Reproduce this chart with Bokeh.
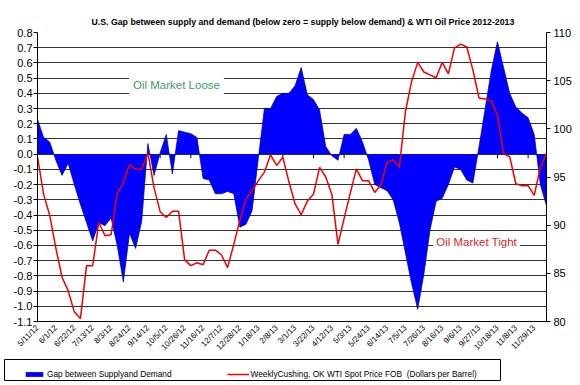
import math
from bokeh.plotting import figure
from bokeh.layouts import column, row
from bokeh.models import (Range1d, LinearAxis, FixedTicker, PrintfTickFormatter,
                          Label, Legend, LegendItem)
from bokeh.embed import file_html
from bokeh.resources import INLINE

# ---------------- data (weekly, 5/11/12 ... 12/20/13) ----------------
gap = [0.23, 0.11, 0.08, -0.04, -0.14, -0.06, -0.20, -0.33, -0.45, -0.57,
       -0.45, -0.47, -0.42, -0.60, -0.84, -0.52, -0.62, -0.44, 0.07, -0.14,
       0.01, 0.13, -0.13, 0.155, 0.145, 0.135, 0.11, -0.16, -0.17, -0.26,
       -0.26, -0.245, -0.26, -0.48, -0.46, -0.37, -0.03, 0.30, 0.30, 0.38,
       0.40, 0.40, 0.45, 0.57, 0.39, 0.36, 0.29, 0.05, -0.01, -0.04,
       0.13, 0.13, 0.17, 0.08, -0.04, -0.20, -0.22, -0.24, -0.30, -0.45,
       -0.65, -0.85, -1.02, -0.79, -0.50, -0.31, -0.29, -0.20, -0.085, -0.10,
       -0.17, -0.19, 0.05, 0.30, 0.55, 0.74, 0.57, 0.40, 0.31, 0.27,
       0.24, 0.13, -0.20, -0.34]

price = [97.1, 93.2, 91.0, 87.6, 84.6, 83.2, 81.0, 80.3, 85.8, 85.8,
         90.3, 88.9, 89.0, 93.3, 94.4, 96.3, 95.8, 95.8, 97.5, 93.9,
         91.4, 90.8, 91.45, 91.45, 86.4, 85.8, 86.1, 85.9, 87.4, 87.4,
         86.9, 85.6, 88.0, 90.5, 92.7, 93.6, 94.6, 95.5, 97.3, 96.2,
         97.06, 94.5, 92.2, 91.1, 92.5, 93.2, 96.0, 95.0, 93.2, 88.0,
         90.7, 93.3, 95.85, 94.6, 94.6, 93.4, 94.2, 96.5, 96.8, 96.0,
         101.8, 104.9, 106.9, 105.9, 105.6, 105.3, 106.9, 105.7, 108.4, 108.8,
         108.5, 106.1, 103.2, 103.1, 102.9, 101.4, 97.4, 97.1, 94.3, 94.1,
         94.1, 93.1, 96.0, 97.5]

week_index = list(range(len(gap)))

tick_labels = ["5/11/12", "6/1/12", "6/22/12", "7/13/12", "8/3/12", "8/24/12",
               "9/14/12", "10/5/12", "10/26/12", "11/16/12", "12/7/12",
               "12/28/12", "1/18/13", "2/8/13", "3/1/13", "3/22/13", "4/12/13",
               "5/3/13", "5/24/13", "6/14/13", "7/5/13", "7/26/13", "8/16/13",
               "9/6/13", "9/27/13", "10/18/13", "11/8/13", "11/29/13"]
tick_positions = week_index[::3][:len(tick_labels)]
zero_ticks = week_index[::5]

gap_ticks = [-1.1, -1.0, -0.9, -0.8, -0.7, -0.6, -0.5, -0.4, -0.3, -0.2, -0.1,
             0.0, 0.1, 0.2, 0.3, 0.4, 0.5, 0.6, 0.7, 0.8]
price_ticks = [80, 85, 90, 95, 100, 105, 110]

TITLE = ("U.S. Gap between supply and demand (below zero = supply below demand)"
         " & WTI Oil Price 2012-2013")
LEGEND_GAP = "Gap between Supplyand Demand"
LEGEND_PRICE = "WeeklyCushing, OK WTI Spot Price FOB  (Dollars per Barrel)"
FONT = "Liberation Sans"
AREA_COLOR = "#0000ff"
LINE_COLOR = "#f00000"

# ---------------- main figure ----------------
p = figure(width=580, height=358, output_backend="svg", toolbar_location=None,
           x_range=Range1d(week_index[0], week_index[-1]),
           y_range=Range1d(gap_ticks[0], gap_ticks[-1]),
           min_border_left=37, min_border_right=34, min_border_top=32,
           min_border_bottom=37)
p.extra_y_ranges = {"price": Range1d(price_ticks[0], price_ticks[-1])}
p.outline_line_color = None
p.background_fill_color = "white"
p.border_fill_color = "white"

# title
p.title.text = TITLE
p.title.align = "left"
p.title.offset = 54
p.title.standoff = 11
p.title.text_font = FONT
p.title.text_font_size = "8.75px"
p.title.text_font_style = "bold"
p.title.text_color = "black"

p.xgrid.visible = False
p.ygrid.ticker = FixedTicker(ticks=gap_ticks)
p.ygrid.grid_line_color = "#333333"
p.ygrid.grid_line_width = 1

# bottom (category) axis
xa = p.xaxis[0]
xa.ticker = FixedTicker(ticks=tick_positions)
xa.major_label_overrides = {pos: lab for pos, lab in zip(tick_positions, tick_labels)}
xa.major_label_orientation = math.pi / 4
xa.major_tick_out = 0
xa.major_tick_in = 0
xa.minor_tick_line_color = None
xa.axis_line_color = "black"
xa.major_label_text_font = FONT
xa.major_label_text_font_size = "8px"
xa.major_label_text_color = "black"
xa.major_label_standoff = 5

# left axis
ya = p.yaxis[0]
ya.ticker = FixedTicker(ticks=gap_ticks)
ya.formatter = PrintfTickFormatter(format="%.1f")
ya.major_tick_out = 4
ya.major_tick_in = 0
ya.minor_tick_line_color = None
ya.axis_line_color = "black"
ya.major_tick_line_color = "black"
ya.major_label_text_font = FONT
ya.major_label_text_font_size = "11px"
ya.major_label_text_color = "black"
ya.major_label_standoff = 1

# right axis
ra = LinearAxis(y_range_name="price", ticker=FixedTicker(ticks=price_ticks))
ra.major_tick_out = 4
ra.major_tick_in = 0
ra.minor_tick_line_color = None
ra.axis_line_color = "black"
ra.major_tick_line_color = "black"
ra.major_label_text_font = FONT
ra.major_label_text_font_size = "11px"
ra.major_label_text_color = "black"
ra.major_label_standoff = 3
p.add_layout(ra, "right")

# small tick marks on the zero line (under the area)
p.segment(x0=zero_ticks, y0=[0] * len(zero_ticks), x1=zero_ticks,
          y1=[-0.026] * len(zero_ticks), line_color="black", line_width=1)

# gap area
p.varea(x=week_index, y1=[0] * len(gap), y2=gap, fill_color=AREA_COLOR)
p.line(week_index, gap, line_color="#000080", line_width=0.7)

# price line
p.line(week_index, price, y_range_name="price", line_color=LINE_COLOR,
       line_width=1.5)

# annotations
p.add_layout(Label(x=22.66, y=0.452, text="Oil Market Loose", text_align="center",
                   text_baseline="middle", text_font=FONT, text_font_size="11.5px",
                   text_color="#3f9a6c", background_fill_color="white", padding=4))
p.add_layout(Label(x=71.6, y=-0.579, text="Oil Market Tight", text_align="center",
                   text_baseline="middle", text_font=FONT, text_font_size="11.5px",
                   text_color="#d8262b", background_fill_color="white", padding=3))

# ---------------- legend strip ----------------
# its plot frame is the legend box (outline); the series are drawn here
# outside the visible ranges, only to supply the legend keys
lg = figure(width=580, height=27, output_backend="svg", toolbar_location=None,
            x_range=Range1d(-20, -10), y_range=Range1d(-20, -10),
            x_axis_type=None, y_axis_type=None,
            min_border_left=4, min_border_right=80, min_border_top=1,
            min_border_bottom=5)
lg.outline_line_color = "black"
lg.outline_line_width = 1
lg.outline_line_alpha = 1
lg.xgrid.visible = False
lg.ygrid.visible = False
lg.background_fill_color = "white"
lg.border_fill_color = "white"
area_key = lg.varea(x=week_index, y1=[0] * len(gap), y2=gap, fill_color=AREA_COLOR)
line_key = lg.line(x=week_index, y=price, line_color=LINE_COLOR, line_width=1.5)

legend = Legend(items=[LegendItem(label=LEGEND_GAP, renderers=[area_key]),
                       LegendItem(label=LEGEND_PRICE, renderers=[line_key])],
                location=(19, 1), orientation="horizontal", padding=4, spacing=55,
                glyph_width=22, glyph_height=6, label_standoff=2, label_height=10,
                label_text_font=FONT, label_text_font_size="8.3px",
                label_text_color="black",
                border_line_color=None,
                background_fill_alpha=0, margin=0)
lg.add_layout(legend, "center")

layout = column(p, row(lg), spacing=0)
open("out.html", "w").write(file_html(layout, INLINE))
